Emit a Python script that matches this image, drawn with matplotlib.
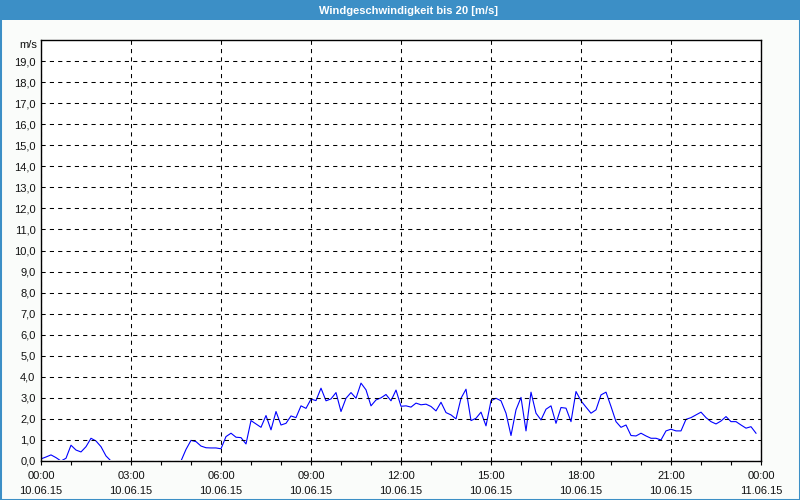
import numpy as np
import matplotlib
matplotlib.use("Agg")
import matplotlib.pyplot as plt
from matplotlib.patches import Rectangle
from matplotlib.ticker import MultipleLocator
from matplotlib.transforms import ScaledTranslation

plt.rcParams['font.family'] = ['Liberation Sans', 'DejaVu Sans']

title = "Windgeschwindigkeit bis 20 [m/s]"
unit_label = "m/s"

# wind speed in m/s, 10-minute samples from 10.06.15 00:00 to 23:50
speed = [
    0.10, 0.19, 0.29, 0.16, 0.00, 0.13, 0.75, 0.52, 0.43, 0.68, 1.08, 0.95,   # 00:00-01:50
    0.68, 0.24, 0.00, 0.00, 0.00, 0.00, 0.00, 0.00, 0.00, 0.00, 0.00, 0.00,   # 02:00-03:50
    0.00, 0.00, 0.00, 0.00, 0.00, 0.55, 0.98, 0.92, 0.71, 0.63, 0.62, 0.62,   # 04:00-05:50
    0.58, 1.16, 1.32, 1.13, 1.11, 0.81, 1.92, 1.76, 1.60, 2.16, 1.48, 2.35,   # 06:00-07:50
    1.71, 1.79, 2.14, 2.06, 2.62, 2.50, 2.94, 2.87, 3.46, 2.86, 2.95, 3.25,   # 08:00-09:50
    2.35, 2.98, 3.25, 2.98, 3.70, 3.38, 2.62, 2.90, 3.00, 3.16, 2.86, 3.37,   # 10:00-11:50
    2.60, 2.62, 2.56, 2.75, 2.67, 2.70, 2.59, 2.38, 2.79, 2.30, 2.19, 2.00,   # 12:00-13:50
    2.98, 3.41, 1.92, 2.03, 2.32, 1.67, 2.86, 2.98, 2.86, 2.27, 1.21, 2.43,   # 14:00-15:50
    3.02, 1.43, 3.27, 2.27, 1.95, 2.46, 2.62, 1.79, 2.54, 2.51, 1.87, 3.30,   # 16:00-17:50
    2.86, 2.56, 2.27, 2.43, 3.14, 3.27, 2.59, 1.87, 1.60, 1.71, 1.21, 1.19,   # 18:00-19:50
    1.32, 1.19, 1.08, 1.08, 1.00, 1.43, 1.51, 1.43, 1.43, 1.98, 2.06, 2.19,   # 20:00-21:50
    2.32, 2.06, 1.87, 1.76, 1.90, 2.11, 1.87, 1.87, 1.71, 1.56, 1.63, 1.32,   # 22:00-23:50
]
hours = np.arange(len(speed)) / 6.0  # sample time in hours since 10.06.15 00:00

x_tick_hours = [0, 3, 6, 9, 12, 15, 18, 21, 24]
x_tick_labels = ["00:00\n10.06.15", "03:00\n10.06.15", "06:00\n10.06.15",
                 "09:00\n10.06.15", "12:00\n10.06.15", "15:00\n10.06.15",
                 "18:00\n10.06.15", "21:00\n10.06.15", "00:00\n11.06.15"]
y_ticks = list(range(0, 20))
y_tick_labels = [f"{v},0" for v in y_ticks]

blue = '#3c8fc6'
fig = plt.figure(figsize=(8, 5), dpi=100, facecolor='#fafcfa')

# title bar
fig.patches.append(Rectangle((0, 0.96), 1, 0.04, transform=fig.transFigure,
                             facecolor=blue, edgecolor='none', zorder=0))
fig.patches.append(Rectangle((0, 0), 1, 1, transform=fig.transFigure,
                             facecolor='none', edgecolor=blue, lw=2.2, zorder=5))
fig.text(0.511, 0.979, title, color='white', fontsize=8, fontweight='bold',
         ha='center', va='center')

ax = fig.add_axes([41/800, 1 - 461/500, 720/800, 421/500])
ax.set_facecolor('white')
line, = ax.plot(hours, speed, color='#0000ff', lw=0.8, zorder=2)
# the zero baseline of the curve is hidden behind the x axis, as in the original
clip = Rectangle((0, 0), 1, 1, facecolor='none', edgecolor='none',
                 transform=ax.transAxes + ScaledTranslation(0, 0.008, fig.dpi_scale_trans))
line.set_clip_path(clip)

ax.set_xlim(0, 24)
ax.set_ylim(0, 20)
ax.set_xticks(x_tick_hours)
ax.set_xticklabels(x_tick_labels)
ax.xaxis.set_minor_locator(MultipleLocator(1))
ax.set_yticks(y_ticks)
ax.set_yticklabels(y_tick_labels)

ax.tick_params(axis='x', which='both', direction='out', length=3, width=0.8,
               labelsize=8, pad=4, color='black', labelcolor='#111111')
ax.tick_params(axis='y', which='both', length=0, labelsize=8, pad=4,
               labelcolor='#111111')
for lab in ax.get_xticklabels():
    lab.set_linespacing(1.6)

ax.grid(True, which='major', axis='both', color='black', lw=0.75,
        linestyle=(0, (4, 4)))
ax.set_axisbelow(False)
for s in ax.spines.values():
    s.set_color('black')
    s.set_linewidth(1.0)
    s.set_zorder(4)

ax.text(-4/720, 20, unit_label, transform=ax.get_yaxis_transform(),
        ha='right', va='top', fontsize=8, color='#111111')

fig.savefig('out.png', dpi=100, facecolor=fig.get_facecolor())
